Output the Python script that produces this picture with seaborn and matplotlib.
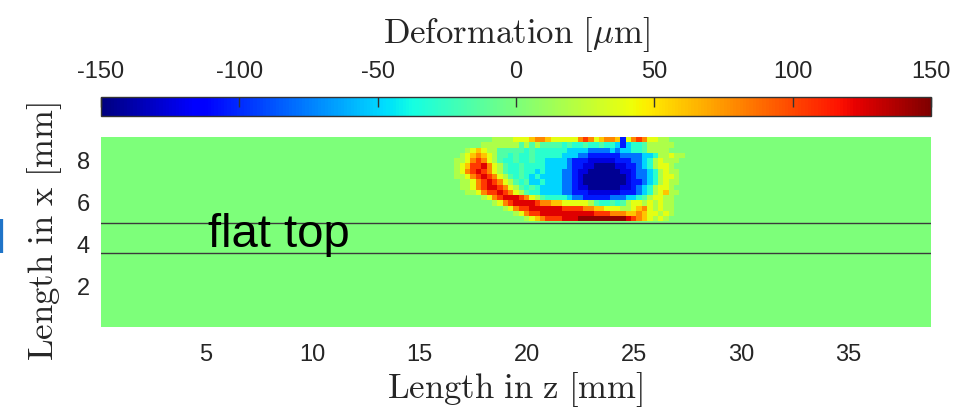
import numpy as np
import matplotlib
matplotlib.use("Agg")
import matplotlib.pyplot as plt
import seaborn as sns

# ---------------- axis / scale values (mm, µm) ----------------
z_min, z_max = 0.125, 38.875          # Length in z extent [mm]
x_min, x_max = 0.1, 9.1               # Length in x extent [mm]
cell = 0.25                           # grid spacing [mm]
z_ticks = [5, 10, 15, 20, 25, 30, 35]
x_ticks = [2, 4, 6, 8]
cbar_ticks = [-150, -100, -50, 0, 50, 100, 150]
v_min, v_max = -150, 150
flat_top_lines = [5.04, 3.6]          # x positions of the two horizontal lines [mm]

# ---------------- deformation field ----------------
# level codes -> deformation in µm
levels = {'.': 0, '-': -16, 'c': -30, 'C': -50, 'b': -78, 'B': -105,
          'n': -125, 'N': -145, '+': 18, 'y': 38, 'o': 60, 'O': 80,
          'r': 105, 'R': 125, 'D': 145}
patch_z_left = 16.375   # left edge of the non-zero patch [mm]
# rows from top (x = 9.1 mm) downward, 0.25 mm per row / column
patch_rows = [
    "........++++yyyoOOoyyyyyOrOyoOOoByOrOyy++....",
    "......+++++++-+-+----c-cc-cc-ccCBCcc-+++++...",
    "...+yoy++-----c-ccccccCCCCbbbbCbCCcc-++++...",
    "..+yoOoy+--c-cc-cccccCCCbbBBBBBBbbbbCCc++y++..",
    ".++yOrOy+-cc-cc-ccCCCCbBBBnnnnnBBBbbCc+y+++..",
    ".+yorrROy+-cc-ccccCCCCbBBnnNNNNnnBBbCc+yy+...",
    ".+yOrRrOy+-cc-ccCcCCCbbBnnNNNNNNnnBbbCc+y++..",
    ".++yOrRrOy+-c-cCcCCCCbbBnNNNNNNNNnBbbCc+yy+..",
    "..++yOrRrOy+-c-CCcCCCbbBnNNNNNNNNnBBbCc+y++..",
    "..++yOrRRrOy+-c-cCCCCbbBnnNNNNNNnnBbCc+yy+...",
    "...++yOrrRrOy+-ccCCCCbbBBBnnnnnnBBBbCc+yo++..",
    "......+yOrRRRrOy+-ccccCbbBBBBBbbbCCc-+yy++...",
    "........+yOrRRRRrOOooyyyyy+-cc-c-+yy+y+y++...",
    "..........+yOrrRRRRRRrrrrOOooyyy++yoOy+y++...",
    "............+yOrrRRRRRRRRRRrrrOOOooOoyy+y+...",
    "..............+yoOrrrRRRDDDDDDDDDRrOoy+y+....",
]

n_cols = int(round((z_max - z_min) / cell))
n_rows = int(round((x_max - x_min) / cell))
col0 = int(round((patch_z_left - z_min) / cell))
n_patch = 45
field = np.zeros((n_rows, n_cols))
for r, row in enumerate(patch_rows):
    row = row.ljust(n_patch, '.')[:n_patch]
    for k, ch in enumerate(row):
        field[r, col0 + k] = levels[ch]

# ---------------- styling ----------------
plt.rcParams['font.family'] = ['Liberation Sans', 'DejaVu Sans']
plt.rcParams['mathtext.fontset'] = 'cm'
W, H = 956, 408
fig = plt.figure(figsize=(W / 100, H / 100), dpi=100)
ax = fig.add_axes([101 / W, 1 - 327 / H, 830 / W, 190 / H])
cax = fig.add_axes([101 / W, 1 - 116 / H, 830 / W, 19 / H])

sns.heatmap(field, ax=ax, cmap='jet', vmin=v_min, vmax=v_max,
            cbar_ax=cax, cbar_kws=dict(orientation='horizontal', ticks=cbar_ticks),
            xticklabels=False, yticklabels=False)

# axes ticks in mm
ax.set_xticks([(z - z_min) / cell for z in z_ticks])
ax.set_xticklabels([str(z) for z in z_ticks])
ax.set_yticks([(x_max - x) / cell for x in x_ticks])
ax.set_yticklabels([str(x) for x in x_ticks], rotation=0)
ax.tick_params(axis='x', length=0, labelsize=17, labelcolor='#262626', pad=12)
ax.tick_params(axis='y', length=0, labelsize=17, labelcolor='#262626', pad=8)

for xl in flat_top_lines:
    ax.axhline((x_max - xl) / cell, color='#3a3a3a', lw=1.0)

ax.text((5.14 - z_min) / cell, (x_max - 3.9) / cell, 'flat top', fontsize=34,
        color='black', ha='left', va='baseline')

# colorbar styling
cb = ax.collections[0].colorbar
cb.outline.set_linewidth(1.0)
cb.outline.set_edgecolor('#333333')
cax.xaxis.set_ticks_position('top')
cax.xaxis.set_label_position('top')
cax.set_xticklabels([str(t) for t in cbar_ticks])
cax.tick_params(axis='x', direction='in', length=7, width=1, color='#333333',
                labelsize=17, labelcolor='#262626', pad=10)

# labels
fig.text(516 / W, 1 - 43 / H, r'$\mathrm{Deformation}\ [\mu\mathrm{m}]$',
         fontsize=25, color='#262626', ha='center', va='baseline')
fig.text(515 / W, 1 - 398 / H, r'$\mathrm{Length\ in\ z\ [mm]}$',
         fontsize=25, color='#262626', ha='center', va='baseline')
fig.text(45 / W, 1 - 231 / H, r'$\mathrm{Length\ in\ x\ [mm]}$',
         fontsize=25, color='#262626', ha='center', va='center', rotation=90)

# clipped blue glyph at the left edge (as in the reference)
fig.text(-0.004, 1 - 253 / H, 'l', fontsize=33, color='#1f74c8', ha='left', va='baseline')

fig.savefig('out.png', dpi=100)
